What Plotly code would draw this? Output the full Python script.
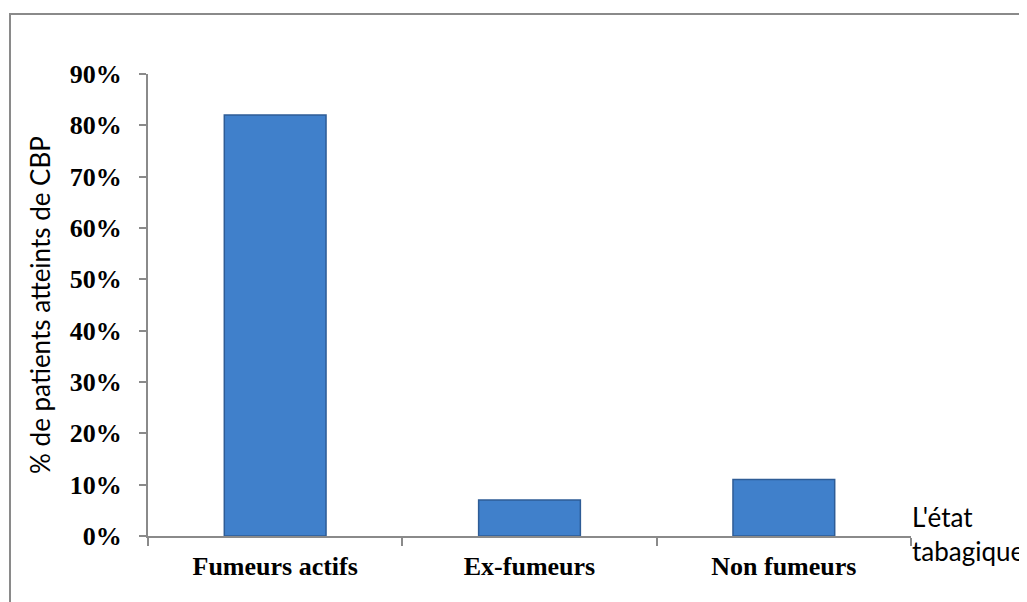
import plotly.graph_objects as go

categories = ["Fumeurs actifs", "Ex-fumeurs", "Non fumeurs"]
values = [0.82, 0.07, 0.11]
y_ticks = [0, 0.1, 0.2, 0.3, 0.4, 0.5, 0.6, 0.7, 0.8, 0.9]
y_tick_labels = ["0%", "10%", "20%", "30%", "40%", "50%", "60%", "70%", "80%", "90%"]

fig = go.Figure()
fig.add_trace(go.Bar(
    x=categories, y=values, width=0.4,
    marker=dict(color="#4080CB", line=dict(color="#2E5C96", width=1.5)),
))

# page body has 8px default margin -> figure coords = screen - 8
L, R, T, B = 140, 124, 66, 74
W, H = 1027, 602
pw, ph = W - L - R, H - T - B

fig.add_shape(type="rect", xref="paper", yref="paper",
              x0=(2 - L) / pw, x1=(1100 - L) / pw,
              y0=(H - B - 700) / ph, y1=(H - B - 6) / ph,
              line=dict(color="#8a8a8a", width=2), fillcolor="rgba(0,0,0,0)", layer="below")

fig.add_annotation(xref="paper", yref="paper", x=(902 - L) / pw, y=(H - B - 526) / ph,
                   xanchor="left", yanchor="middle", align="left", showarrow=False,
                   text="L'état<br>tabagique", font=dict(family="Lato, Open Sans, sans-serif", size=26, color="#000"))

fig.update_layout(
    width=W, height=H, margin=dict(l=L, r=R, t=T, b=B),
    paper_bgcolor="white", plot_bgcolor="white", showlegend=False,
    xaxis=dict(showline=True, linecolor="#8a8a8a", linewidth=2, ticks="outside", tickson="boundaries",
               ticklen=8, tickcolor="#8a8a8a", tickwidth=2, ticklabelstandoff=6,
               tickfont=dict(family="Liberation Serif, Times New Roman, serif", size=26, color="#000", weight="bold")),
    yaxis=dict(range=[0, 0.9], tickvals=y_ticks, ticktext=y_tick_labels, showgrid=False, zeroline=False,
               showline=True, linecolor="#8a8a8a", linewidth=2, ticks="outside", ticklen=7,
               tickcolor="#8a8a8a", tickwidth=2, ticklabelstandoff=12,
               tickfont=dict(family="Liberation Serif, Times New Roman, serif", size=26, color="#000", weight="bold"),
               title=dict(text="% de patients atteints de CBP", standoff=12,
                          font=dict(family="Lato, Open Sans, sans-serif", size=26, color="#000"))),
)
fig.write_html("out.html")
